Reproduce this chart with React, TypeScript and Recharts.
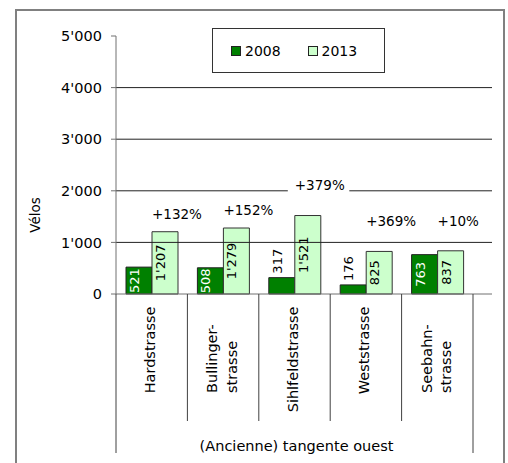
import { BarChart, Bar, XAxis, YAxis, ReferenceLine, LabelList, Legend } from "recharts";

const streets = ["Hardstrasse", "Bullinger-\nstrasse", "Sihlfeldstrasse", "Weststrasse", "Seebahn-\nstrasse"];
const count2008 = [521, 508, 317, 176, 763];
const count2013 = [1207, 1279, 1521, 825, 837];
const growth = ["+132%", "+152%", "+379%", "+369%", "+10%"];
const yTicks = [0, 1000, 2000, 3000, 4000, 5000];
const gridValues = [1000, 2000, 3000, 4000];
const yLabel = "Vélos";
const groupLabel = "(Ancienne) tangente ouest";

const series = [
  { key: "y2008", name: "2008", color: "#008000" },
  { key: "y2013", name: "2013", color: "#ccffcc" },
];

const data = streets.map((s, i) => ({
  street: s,
  y2008: count2008[i],
  y2013: count2013[i],
  growth: growth[i],
}));

const FONT = "'DejaVu Sans', Verdana, sans-serif";
const fmt = (v: number) => String(v).replace(/\B(?=(\d{3})+(?!\d))/g, "'");

// growth labels were placed by hand in the original, so each has its own lift above the bar
const growthLift = [18, 18, 30, 30, 30];

const BarValue = (props: any) => {
  const { x, y, width, height, value } = props;
  const dark = props.dark;
  const text = fmt(value);
  const len = text.replace("'", "").length * 8.3 + (text.includes("'") ? 3.6 : 0);
  const cx = x + width / 2;
  if (height >= len) {
    const cy = y + height / 2;
    return (
      <text x={cx} y={cy} transform={`rotate(-90 ${cx} ${cy})`} textAnchor="middle"
        fontFamily={FONT} fontSize={13} fill={dark ? "#fff" : "#000"}>
        {text}
      </text>
    );
  }
  const ty = y - 4;
  return (
    <text x={cx} y={ty} transform={`rotate(-90 ${cx} ${ty})`} textAnchor="start"
      fontFamily={FONT} fontSize={13} fill="#000">
      {text}
    </text>
  );
};

const GrowthLabel = (props: any) => {
  const { x, y, value } = props;
  const i = growth.indexOf(value);
  const cy = y - (growthLift[i] ?? 20);
  const w = String(value).length * 9.5;
  return (
    <g>
      <rect x={x - 7} y={cy - 9} width={w + 14} height={18} fill="#fff" />
      <text x={x} y={cy} dy="0.36em" fontFamily={FONT} fontSize={13.5} fill="#000">
        {value}
      </text>
    </g>
  );
};

const StreetTick = (props: any) => {
  const { x, y, payload, index } = props;
  const half = payload.offset || 35.7;
  const lines = String(payload.value).split("\n");
  const last = index === streets.length - 1;
  const sep = "#404040";
  return (
    <g>
      <line x1={x - half} x2={x - half} y1={y} y2={y + (index === 0 ? 159 : 127)} stroke={sep} />
      {last && <line x1={x + half} x2={x + half} y1={y} y2={y + 159} stroke={sep} />}
      {lines.length === 1 ? (
        <text x={x + 3.5} y={y + 12.5} transform={`rotate(-90 ${x + 3.5} ${y + 12.5})`}
          textAnchor="end" fontFamily={FONT} fontSize={14.5} fill="#000">
          {lines[0]}
        </text>
      ) : (
        lines.map((t, k) => {
          const bx = x + 4 + (k - (lines.length - 1) / 2) * 19.5;
          const by = y + 99;
          return (
            <text key={k} x={bx} y={by} transform={`rotate(-90 ${bx} ${by})`}
              textAnchor="start" fontFamily={FONT} fontSize={14.5} fill="#000">
              {t}
            </text>
          );
        })
      )}
    </g>
  );
};

const renderLegend = () => (
  <div style={{
    boxSizing: "border-box", width: 173, height: 45, border: "1px solid #333",
    background: "#fff", display: "flex", alignItems: "center", paddingLeft: 18,
    fontFamily: FONT, fontSize: 14, color: "#000",
  }}>
    {series.map((s) => (
      <div key={s.key} style={{ width: 88, display: "flex", alignItems: "center" }}>
        <span style={{ boxSizing: "border-box", width: 10, height: 10, background: s.color, border: "1px solid #222", marginRight: 4 }} />
        <span>{s.name}</span>
      </div>
    ))}
  </div>
);

export default function App() {
  return (
    <div style={{ position: "fixed", left: 0, top: 0, width: 508, height: 463, overflow: "hidden", background: "#fff" }}>
      <div style={{ position: "absolute", left: 15, top: 9, width: 490, height: 500, boxSizing: "border-box", border: "2px solid #808080" }} />
      <div style={{ position: "absolute", left: 0, top: 0 }}>
        <BarChart width={508} height={463} data={data} barSize={26} barGap={0}
          margin={{ top: 36, right: 16, bottom: 0, left: 0 }}>
          <XAxis dataKey="street" type="category" interval={0} height={169}
            padding={{ left: 0, right: 19 }} tickSize={0} tickMargin={0} tickLine={false}
            axisLine={{ stroke: "#707070" }} tick={<StreetTick />}
            label={{
              value: groupLabel,
              content: (p: any) => {
                const vb = p.viewBox;
                return (
                  <text x={vb.x + (vb.width - 19) / 2 + 2} y={vb.y + 156.5} textAnchor="middle"
                    fontFamily={FONT} fontSize={14.5} fill="#000">
                    {groupLabel}
                  </text>
                );
              },
            }} />
          <YAxis type="number" domain={[0, 5000]} ticks={yTicks} interval={0} width={116}
            tickSize={5} tickMargin={9} tickFormatter={fmt}
            tick={{ fontFamily: FONT, fontSize: 14.5, fill: "#000" }}
            axisLine={{ stroke: "#707070" }} tickLine={{ stroke: "#707070" }}
            label={{
              value: yLabel,
              content: (p: any) => {
                const vb = p.viewBox;
                const lx = vb.x + 40;
                const ly = 215;
                return (
                  <text x={lx} y={ly} transform={`rotate(-90 ${lx} ${ly})`} textAnchor="middle"
                    fontFamily={FONT} fontSize={13.5} fill="#000">
                    {yLabel}
                  </text>
                );
              },
            }} />
          {gridValues.map((v) => (
            <ReferenceLine key={v} y={v} stroke="#222" strokeWidth={1} />
          ))}
          <Legend layout="horizontal" verticalAlign="middle" align="center" content={renderLegend}
            wrapperStyle={{ position: "absolute", left: 212, top: 28, width: 173, height: 45 }} />
          <Bar dataKey="y2008" name="2008" fill={series[0].color} stroke="#222" strokeWidth={1} isAnimationActive={false}>
            <LabelList dataKey="y2008" content={<BarValue dark />} />
          </Bar>
          <Bar dataKey="y2013" name="2013" fill={series[1].color} stroke="#333" strokeWidth={1} isAnimationActive={false}>
            <LabelList dataKey="y2013" content={<BarValue />} />
            <LabelList dataKey="growth" content={<GrowthLabel />} />
          </Bar>
        </BarChart>
      </div>
    </div>
  );
}
